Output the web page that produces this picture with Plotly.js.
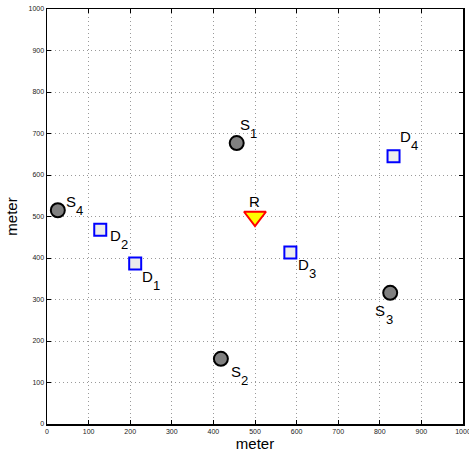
<!DOCTYPE html>
<html>
<head>
<meta charset="utf-8">
<script src="https://cdn.plot.ly/plotly-3.0.1.min.js"></script>
<style>html,body{margin:0;padding:0;background:#fff;}#chart{width:469px;height:454px;}</style>
</head>
<body>
<div id="chart"></div>
<script>
// Data
const sourceNames = ["S", "S", "S", "S"];
const sourceIndex = ["1", "2", "3", "4"];
const sourceX = [456, 418, 825, 26];
const sourceY = [677, 157, 316, 515];

const destNames = ["D", "D", "D", "D"];
const destIndex = ["1", "2", "3", "4"];
const destX = [212, 128, 585, 833];
const destY = [387, 468, 413, 645];

const relayNames = ["R"];
const relayX = [500];
const relayY = [500];

const tickVals = [0, 100, 200, 300, 400, 500, 600, 700, 800, 900, 1000];

// Styles: label offsets in pixels (letter centre relative to marker centre)
const srcOffsets = [[8, -19], [15, 13], [-10, 18], [13, -9]];
const dstOffsets = [[12, 13], [15, 6], [13, 12], [12, -20]];
const relayOffsets = [[-1, -15]];
const subOffset = [9, 9];
const FONT = "Liberation Sans, Arial, Helvetica, sans-serif";

const traces = [
  {
    x: sourceX, y: sourceY, mode: "markers", type: "scatter", cliponaxis: false,
    marker: {symbol: "circle", size: 14, color: "#808080", line: {color: "#000", width: 2}},
    hoverinfo: "none"
  },
  {
    x: destX, y: destY, mode: "markers", type: "scatter", cliponaxis: false,
    marker: {symbol: "square", size: 12, color: "#ececec", line: {color: "#0000ff", width: 2}},
    hoverinfo: "none"
  },
  {
    x: relayX, y: relayY, mode: "markers", type: "scatter", cliponaxis: false,
    marker: {symbol: "triangle-down", size: 19, color: "#ffff00", line: {color: "#ff0000", width: 2}},
    hoverinfo: "none"
  }
];

const annotations = [];
function addLabels(xs, ys, names, idx, offs) {
  xs.forEach((xv, i) => {
    const o = offs[i];
    annotations.push({
      x: xv, y: ys[i], xref: "x", yref: "y", text: names[i], showarrow: false,
      xanchor: "center", yanchor: "middle", xshift: o[0], yshift: -o[1],
      font: {family: FONT, size: 15, color: "#000"}
    });
    if (idx) {
      annotations.push({
        x: xv, y: ys[i], xref: "x", yref: "y", text: idx[i], showarrow: false,
        xanchor: "center", yanchor: "middle", xshift: o[0] + subOffset[0], yshift: -(o[1] + subOffset[1]),
        font: {family: FONT, size: 13, color: "#000"}
      });
    }
  });
}
addLabels(sourceX, sourceY, sourceNames, sourceIndex, srcOffsets);
addLabels(destX, destY, destNames, destIndex, dstOffsets);
addLabels(relayX, relayY, relayNames, null, relayOffsets);

const axisCommon = {
  range: [0, 1000], tickvals: tickVals, ticktext: tickVals.map(String),
  ticks: "inside", ticklen: 4, tickwidth: 1, tickcolor: "#000",
  mirror: "ticks", showline: true, linecolor: "#000", linewidth: 1.5,
  showgrid: true, gridcolor: "#9a9a9a", griddash: "1px,3px", gridwidth: 1,
  zeroline: false, fixedrange: true, ticklabeloverflow: "allow",
  tickfont: {family: FONT, size: 7, color: "#222"}
};

const layout = {
  width: 469, height: 454,
  margin: {l: 47, r: 6, t: 9, b: 30},
  paper_bgcolor: "#fff", plot_bgcolor: "#fff",
  showlegend: false,
  annotations: annotations,
  xaxis: Object.assign({}, axisCommon, {
    title: {text: "meter", font: {family: FONT, size: 15, color: "#000"}, standoff: 2}
  }),
  yaxis: Object.assign({}, axisCommon, {
    title: {text: "meter", font: {family: FONT, size: 15, color: "#000"}, standoff: 7}
  })
};

Plotly.newPlot("chart", traces, layout, {staticPlot: true, displayModeBar: false});
</script>
</body>
</html>
